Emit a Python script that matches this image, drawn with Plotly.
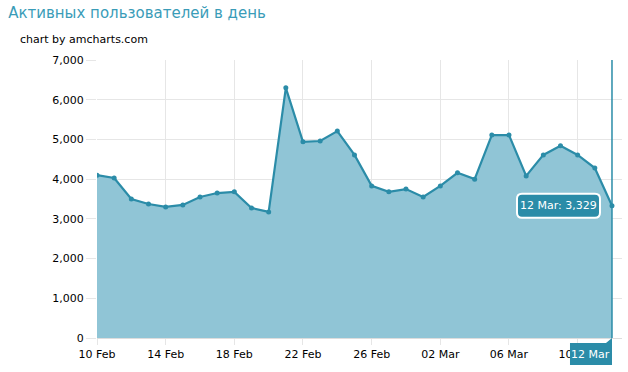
import plotly.graph_objects as go
import pandas as pd

dates = pd.date_range("2014-02-10", "2014-03-12", freq="D")
users = [4100, 4030, 3500, 3375, 3300, 3350, 3550, 3650, 3680, 3275, 3175,
         6300, 4940, 4960, 5210, 4610, 3830, 3680, 3750, 3550, 3830, 4160,
         4000, 5110, 5110, 4080, 4610, 4840, 4610, 4280, 3329]
tick_dates = pd.date_range("2014-02-10", "2014-03-10", freq="4D")

title_text = "Активных пользователей в день"
credit_text = "chart by amcharts.com"

TEAL = "#2b8ca8"
FILL = "#90c5d6"
FONT = "Verdana, DejaVu Sans, sans-serif"

fig = go.Figure()
fig.add_trace(go.Scatter(
    x=dates, y=users, mode="lines+markers",
    line=dict(color=TEAL, width=2.2),
    marker=dict(color=TEAL, size=5),
    fill="tozeroy", fillcolor=FILL,
    hoverinfo="skip", showlegend=False,
))

last_x = dates[-1]
last_y = users[-1]
label_date = f"{last_x.day:02d} {last_x.strftime('%b')}"

# cursor line
fig.add_shape(type="line", xref="x", yref="paper", x0=last_x, x1=last_x,
              y0=0, y1=1, line=dict(color=TEAL, width=1.5), layer="above")

# rounded tooltip balloon (pixel offsets relative to the last point)
def rounded_rect(x0, y0, x1, y1, r):
    return (f"M{x0+r},{y0} L{x1-r},{y0} Q{x1},{y0} {x1},{y0+r} "
            f"L{x1},{y1-r} Q{x1},{y1} {x1-r},{y1} L{x0+r},{y1} "
            f"Q{x0},{y1} {x0},{y1-r} L{x0},{y0+r} Q{x0},{y0} {x0+r},{y0} Z")

fig.add_shape(type="path", xref="x", yref="y", xsizemode="pixel", ysizemode="pixel",
              xanchor=last_x, yanchor=last_y,
              path=rounded_rect(-95, -12, -12, 12, 5),
              fillcolor=TEAL, line=dict(color="white", width=2), layer="above")
fig.add_annotation(x=last_x, y=last_y, xref="x", yref="y",
                   text=f"{label_date}: {last_y:,}",
                   showarrow=False, xanchor="center", xshift=-53.5,
                   font=dict(color="white", size=11, family=FONT))

# bottom category balloon with notch
fig.add_shape(type="path", xref="x", yref="paper", xsizemode="pixel", ysizemode="pixel",
              xanchor=last_x, yanchor=0,
              path="M-42,-5 L-6,-5 L0,0 L0,-27 L-42,-27 Z",
              fillcolor=TEAL, line=dict(width=0), layer="above")
fig.add_annotation(x=last_x, y=0, xref="x", yref="paper",
                   text=label_date, showarrow=False,
                   xanchor="center", yanchor="middle", xshift=-21, yshift=-16,
                   font=dict(color="white", size=11, family=FONT))

fig.add_annotation(text=credit_text, xref="paper", yref="paper",
                   x=-0.151, y=1.075, xanchor="left", yanchor="middle",
                   showarrow=False, font=dict(size=11, color="#000", family=FONT))

fig.update_layout(
    width=628, height=372,
    margin=dict(l=97, r=6, t=60, b=34),
    paper_bgcolor="white", plot_bgcolor="white",
    font=dict(family=FONT, size=11, color="#000"),
    title=dict(text=title_text, x=0.013, xanchor="left", y=0.979, yanchor="top",
               font=dict(size=15, color="#3a9cb8", family=FONT)),
)

fig.update_xaxes(
    range=[dates[0], dates[-1] + pd.Timedelta(hours=14)],
    tickvals=tick_dates, tickformat="%d %b",
    showgrid=True, gridcolor="#e6e6e6", gridwidth=1,
    ticks="outside", ticklen=6, tickcolor="#e6e6e6",
    showline=True, linecolor="#dddddd",
    zeroline=False, tickfont=dict(size=11, color="#000"),
)
fig.update_yaxes(
    range=[0, 7000], tickvals=list(range(0, 7001, 1000)), tickformat=",d",
    showgrid=True, gridcolor="#e6e6e6", gridwidth=1,
    ticks="outside", ticklen=10, tickcolor="#e6e6e6",
    zeroline=False, showline=False, tickfont=dict(size=11, color="#000"),
)

fig.write_html("out.html", config={"displayModeBar": False},
               post_script="document.body.style.margin='0';")
